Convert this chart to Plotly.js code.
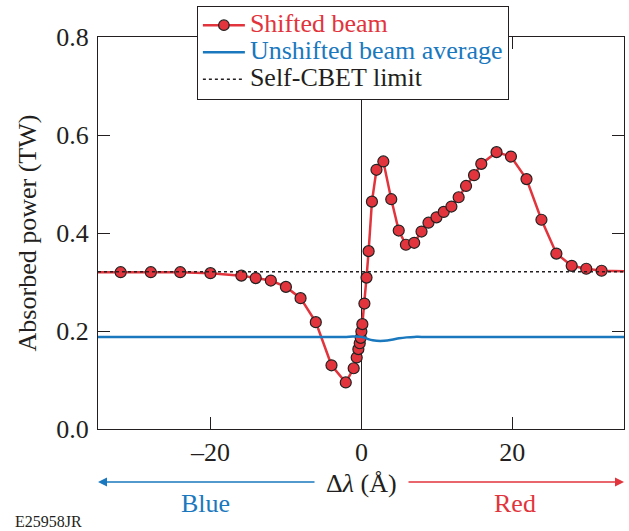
<!DOCTYPE html>
<html>
<head>
<meta charset="utf-8">
<script src="https://cdn.plot.ly/plotly-3.0.1.min.js"></script>
<style>html,body{margin:0;padding:0;background:#fff;}#chart{width:629px;height:531px;}</style>
</head>
<body>
<div id="chart"></div>
<script>
// Shifted beam (Δλ in Å, absorbed power in TW); first/last entries are line ends without markers
const shiftedX = [-34.9, -31.9, -27.9, -24.0, -20.0, -15.9, -14.0, -12.0, -10.0, -8.06, -6.04, -3.96, -2.07, -1.02,
  -0.62, -0.40, -0.22, -0.09, 0.0, 0.13, 0.40, 0.68, 0.96, 1.40, 2.0, 2.91, 3.96, 4.95, 5.9, 7.0, 7.97, 8.89,
  9.95, 10.91, 11.93, 12.89, 13.87, 14.93, 15.89, 17.91, 19.82, 21.88, 23.86, 25.84, 27.87, 29.80, 31.83, 34.8];
const shiftedY = [0.320, 0.320, 0.320, 0.320, 0.318, 0.313, 0.308, 0.303, 0.290, 0.267, 0.218, 0.130, 0.095, 0.124,
  0.146, 0.163, 0.175, 0.186, 0.199, 0.214, 0.256, 0.309, 0.363, 0.464, 0.529, 0.546, 0.469, 0.405, 0.376, 0.380, 0.403, 0.421,
  0.432, 0.443, 0.454, 0.473, 0.496, 0.518, 0.541, 0.565, 0.556, 0.510, 0.427, 0.358, 0.333, 0.327, 0.323, 0.322];
const shiftedMarked = shiftedX.map((v, i) => (i === 0 || i === shiftedX.length - 1) ? 0 : 1);

// Unshifted beam average
const unshiftedX = [-34.9, -10, -2, -0.5, 0, 0.5, 1, 1.5, 2, 3, 4, 5, 6, 7, 8, 34.8];
const unshiftedY = [0.188, 0.188, 0.188, 0.189, 0.188, 0.186, 0.183, 0.181, 0.180, 0.180, 0.182, 0.185, 0.187, 0.188, 0.188, 0.188];

// Self-CBET limit
const limitX = [-34.9, 34.8];
const limitY = [0.321, 0.321];

const xTicks = [-20, 0, 20];
const xTickText = ['\u201320', '0', '20'];
const yTicks = [0.0, 0.2, 0.4, 0.6, 0.8];
const yTickText = ['0.0', '0.2', '0.4', '0.6', '0.8'];

const RED = '#e2343c', BLUE = '#1a78be', INK = '#231f20';
const FONT = 'Liberation Serif, Times New Roman, serif';
const FS = 26;

function legendLabel(text, color) {
  return '<span style="font-size:' + FS + 'px;fill:' + color + '">' + text + '</span>';
}

const traces = [
  {
    x: shiftedX, y: shiftedY, mode: 'lines+markers', type: 'scatter',
    name: legendLabel('Shifted beam', RED),
    line: {color: RED, width: 2.5},
    marker: {color: RED, opacity: 1, size: shiftedMarked.map(m => m ? 11 : 0), line: {color: '#222', width: 1.2}}
  },
  {
    x: unshiftedX, y: unshiftedY, mode: 'lines', type: 'scatter',
    name: legendLabel('Unshifted beam average', BLUE),
    line: {color: BLUE, width: 2.5, shape: 'spline'}
  },
  {
    x: limitX, y: limitY, mode: 'lines', type: 'scatter',
    name: legendLabel('Self-CBET limit', INK),
    line: {color: INK, width: 1.5, dash: 'dot'}
  }
];

const layout = {
  width: 629, height: 531,
  margin: {l: 98, r: 5, t: 37, b: 102},
  paper_bgcolor: '#fff', plot_bgcolor: '#fff',
  font: {family: FONT, size: FS, color: INK},
  showlegend: true,
  legend: {
    x: 0.188, y: 1.08, xanchor: 'left', yanchor: 'top',
    bgcolor: '#fff', bordercolor: INK, borderwidth: 1,
    font: {family: FONT, size: 18.5, color: INK},
    itemwidth: 42, tracegroupgap: 0
  },
  xaxis: {
    range: [-34.9, 34.8], tickvals: xTicks, ticktext: xTickText,
    ticks: 'inside', ticklen: 12, tickcolor: INK, tickwidth: 1,
    showline: true, linecolor: INK, linewidth: 1, mirror: 'ticks',
    showgrid: false, zeroline: true, zerolinecolor: INK, zerolinewidth: 1.2,
    tickfont: {family: FONT, size: FS, color: INK}, fixedrange: true
  },
  yaxis: {
    range: [0, 0.8], tickvals: yTicks, ticktext: yTickText,
    ticks: 'inside', ticklen: 12, tickcolor: INK, tickwidth: 1,
    showline: true, linecolor: INK, linewidth: 1, mirror: 'ticks',
    showgrid: false, zeroline: false,
    tickfont: {family: FONT, size: FS, color: INK}, ticklabelstandoff: 3,
    title: {text: 'Absorbed power (TW)', font: {family: FONT, size: FS, color: INK}, standoff: 12},
    fixedrange: true
  },
  annotations: [
    {xref: 'paper', yref: 'paper', x: 0.5, y: -0.138, text: '\u0394<i>\u03bb</i> (\u00c5)', showarrow: false,
      xanchor: 'center', yanchor: 'middle', font: {family: FONT, size: FS, color: INK}},
    {xref: 'paper', yref: 'paper', x: 0, y: -0.135, ax: 218, ay: 0, text: '', showarrow: true,
      arrowhead: 2, arrowsize: 1.2, arrowwidth: 1.5, arrowcolor: BLUE},
    {xref: 'paper', yref: 'paper', x: 1.0, y: -0.135, ax: -217, ay: 0, text: '', showarrow: true,
      arrowhead: 2, arrowsize: 1.2, arrowwidth: 1.5, arrowcolor: RED},
    {xref: 'paper', yref: 'paper', x: 0.205, y: -0.189, text: 'Blue', showarrow: false,
      xanchor: 'center', yanchor: 'middle', font: {family: FONT, size: FS, color: BLUE}},
    {xref: 'paper', yref: 'paper', x: 0.792, y: -0.189, text: 'Red', showarrow: false,
      xanchor: 'center', yanchor: 'middle', font: {family: FONT, size: FS, color: RED}},
    {xref: 'paper', yref: 'paper', x: -0.162, y: -0.237, text: 'E25958JR', showarrow: false,
      xanchor: 'left', yanchor: 'middle', font: {family: FONT, size: 16, color: INK}}
  ]
};

Plotly.newPlot('chart', traces, layout, {displayModeBar: false, staticPlot: true});
</script>
</body>
</html>
